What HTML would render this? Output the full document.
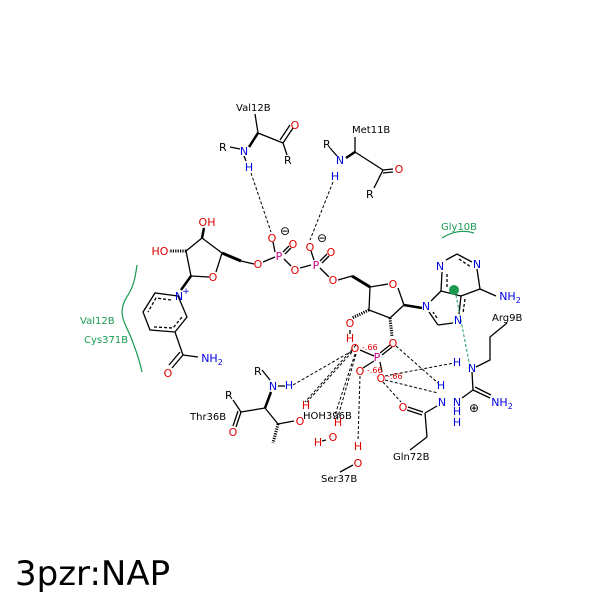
<!DOCTYPE html>
<html><head><style>body{margin:0;background:#fff}svg{display:block}</style></head><body>
<svg width="600" height="600" viewBox="0 0 600 600" xmlns="http://www.w3.org/2000/svg" font-family="'DejaVu Sans','Liberation Sans',sans-serif">
<g stroke="#000" stroke-width="1.3" fill="none">
<!-- Val12B -->
<line x1="255" y1="114" x2="258" y2="133"/>
<line x1="258" y1="133" x2="283" y2="143"/>
<line x1="283" y1="143" x2="293" y2="128"/><line x1="280" y1="140" x2="290" y2="125"/>
<line x1="283" y1="143" x2="287" y2="155"/>
<line x1="230" y1="147" x2="240" y2="149"/>
<line x1="258" y1="133" x2="249" y2="147" stroke-width="2.5"/>
<line x1="244" y1="156" x2="246" y2="161"/>
<!-- Met11B -->
<line x1="355" y1="137" x2="355" y2="152"/>
<line x1="355" y1="152" x2="383" y2="170"/>
<line x1="383" y1="170" x2="393" y2="169"/><line x1="383" y1="173" x2="393" y2="172"/>
<line x1="383" y1="170" x2="374" y2="188"/>
<line x1="330" y1="148" x2="337" y2="156"/>
<line x1="355" y1="152" x2="346" y2="158" stroke-width="2.5"/>
<!-- phosphates -->
<line x1="263" y1="262" x2="275" y2="257"/>
<line x1="284" y1="259" x2="291" y2="266"/>
<line x1="300" y1="268" x2="311" y2="265"/>
<line x1="320" y1="268" x2="329" y2="277"/>
<line x1="275" y1="252" x2="273" y2="242"/>
<line x1="283" y1="252" x2="289" y2="246"/><line x1="285" y1="254" x2="291" y2="248"/>
<line x1="314" y1="260" x2="311" y2="251"/>
<line x1="320" y1="261" x2="327" y2="254"/><line x1="322" y1="263" x2="329" y2="256"/>
<!-- left ribose -->
<line x1="202" y1="238" x2="222" y2="253"/>
<line x1="222" y1="253" x2="216" y2="272"/>
<line x1="209" y1="277" x2="191" y2="276"/>
<line x1="191" y1="276" x2="186" y2="251"/>
<line x1="186" y1="251" x2="202" y2="238"/>
<line x1="202" y1="238" x2="204" y2="228" stroke-width="2.5"/>
<line x1="186" y1="251" x2="169" y2="251" stroke-dasharray="1.2,1.2" stroke-width="3"/>
<line x1="222" y1="253" x2="241" y2="261" stroke-width="3"/>
<line x1="241" y1="261" x2="254" y2="264"/>
<line x1="191" y1="276" x2="181" y2="290" stroke-width="2.5"/>
<!-- pyridine -->
<polygon points="178,296 155,293 143,312 150,330 175,332 187,317"/>
<polyline points="171,300 156,298 148,312" stroke-dasharray="3,2"/>
<polyline points="154,327 173,328 182,317" stroke-dasharray="3,2"/>
<line x1="175" y1="332" x2="183" y2="355"/>
<line x1="183" y1="355" x2="172" y2="368"/><line x1="180" y1="352" x2="169" y2="365"/>
<line x1="183" y1="355" x2="198" y2="357"/>
<!-- right ribose -->
<line x1="352" y1="276" x2="338" y2="280"/>
<line x1="352" y1="276" x2="370" y2="287" stroke-width="3"/>
<line x1="370" y1="287" x2="388" y2="284"/>
<line x1="398" y1="288" x2="404" y2="305"/>
<line x1="404" y1="305" x2="390" y2="318"/>
<line x1="390" y1="318" x2="369" y2="310"/>
<line x1="369" y1="310" x2="370" y2="287"/>
<line x1="404" y1="305" x2="422" y2="308" stroke-width="2.5"/>
<line x1="369" y1="310" x2="352" y2="318" stroke-dasharray="1.2,1.2" stroke-width="3"/>
<line x1="390" y1="318" x2="392" y2="336" stroke-dasharray="1.2,1.2" stroke-width="3"/>
<!-- adenine -->
<line x1="431" y1="301" x2="441" y2="291"/>
<line x1="441" y1="291" x2="442" y2="272"/>
<line x1="446" y1="260" x2="457" y2="254"/>
<line x1="457" y1="254" x2="472" y2="262"/>
<line x1="477" y1="269" x2="480" y2="289"/>
<line x1="480" y1="289" x2="461" y2="296"/>
<line x1="461" y1="296" x2="441" y2="291"/>
<line x1="461" y1="296" x2="459" y2="314"/>
<line x1="453" y1="323" x2="438" y2="325"/>
<line x1="438" y1="325" x2="429" y2="312"/>
<line x1="480" y1="289" x2="496" y2="296"/>
<polyline points="447,287 447,272" stroke-dasharray="3,2"/>
<polyline points="459,259 471,267" stroke-dasharray="3,2"/>
<polyline points="465,299 463,313" stroke-dasharray="3,2"/>
<polyline points="437,318 433,312" stroke-dasharray="3,2"/>
<!-- 2' phosphate -->
<line x1="360" y1="350" x2="374" y2="356"/>
<line x1="363" y1="368" x2="374" y2="361"/>
<line x1="380" y1="362" x2="382" y2="372"/>
<line x1="380" y1="353" x2="390" y2="345"/><line x1="382" y1="355" x2="392" y2="347"/>
<line x1="350" y1="330" x2="350" y2="334"/>
<!-- Gln72B -->
<line x1="408" y1="407" x2="423" y2="412"/><line x1="407" y1="410" x2="422" y2="415"/>
<line x1="425" y1="413" x2="437" y2="406"/>
<line x1="425" y1="413" x2="427" y2="437"/>
<line x1="427" y1="437" x2="410" y2="450"/>
<!-- Arg9B -->
<polyline points="507,323 490,337 490,360 476,367"/>
<line x1="472" y1="372" x2="473" y2="390"/>
<line x1="473" y1="390" x2="490" y2="398"/><line x1="475" y1="387" x2="491" y2="395"/>
<line x1="473" y1="390" x2="462" y2="398"/>
<!-- Thr36B -->
<line x1="262" y1="370" x2="270" y2="380"/>
<line x1="278" y1="386" x2="285" y2="386"/>
<line x1="265" y1="408" x2="271" y2="392" stroke-width="2.5"/>
<line x1="265" y1="408" x2="241" y2="412"/>
<line x1="241" y1="412" x2="233" y2="400"/>
<line x1="241" y1="412" x2="236" y2="427"/><line x1="238" y1="411" x2="233" y2="426"/>
<line x1="265" y1="408" x2="278" y2="424"/>
<line x1="278" y1="424" x2="294" y2="421"/>
<line x1="278" y1="424" x2="273" y2="443" stroke-dasharray="1.2,1.2" stroke-width="3"/>
<!-- waters -->
<line x1="322" y1="441" x2="326" y2="440"/>
<line x1="353" y1="465" x2="340" y2="472"/>
</g>
<!-- H-bonds -->
<g stroke="#000" stroke-width="1" stroke-dasharray="3,2" fill="none">
<line x1="251" y1="173" x2="271" y2="232"/>
<line x1="333" y1="182" x2="310" y2="240"/>
<line x1="352" y1="351" x2="293" y2="385"/>
<line x1="352" y1="352" x2="307" y2="402"/>
<line x1="355" y1="354" x2="334" y2="418"/>
<line x1="356" y1="354" x2="337" y2="420"/>
<line x1="360" y1="376" x2="358" y2="441"/>
<line x1="396" y1="346" x2="438" y2="383"/>
<line x1="385" y1="376" x2="454" y2="363"/>
<line x1="385" y1="380" x2="438" y2="393"/>
<line x1="383" y1="382" x2="401" y2="402"/>
<line x1="356" y1="345" x2="305" y2="402"/>
</g>
<line x1="455" y1="290" x2="470" y2="367" stroke="#1aa060" stroke-width="1" stroke-dasharray="3,2"/>
<circle cx="454" cy="290" r="5" fill="#1a9a50"/>
<g fill="none" stroke="#1a9a50" stroke-width="1.2">
<path d="M137,265 C135,280 133,287 128,295 C118,310 122,318 130,335 C136,350 140,362 142,372"/>
<path d="M442,238 Q458,228 474,233"/>
</g>
<g font-size="10" fill="#000">
<text x="236" y="111">Val12B</text>
<text x="352" y="133">Met11B</text>
<text x="190" y="420">Thr36B</text>
<text x="303" y="419">HOH396B</text>
<text x="321" y="482">Ser37B</text>
<text x="393" y="460">Gln72B</text>
<text x="492" y="321">Arg9B</text>
</g>
<g font-size="10" fill="#1a9a50">
<text x="80" y="324">Val12B</text>
<text x="84" y="343">Cys371B</text>
<text x="441" y="230">Gly10B</text>
</g>
<g font-size="11" fill="#000">
<text x="219" y="151">R</text><text x="284" y="164">R</text>
<text x="323" y="148">R</text><text x="366" y="198">R</text>
<text x="254" y="375">R</text><text x="225" y="399">R</text>
<text x="280" y="235" font-size="12">⊖</text>
<text x="317" y="242" font-size="12">⊖</text>
<text x="469" y="412" font-size="12">⊕</text>
</g>
<g font-size="11" fill="#e00000" text-anchor="middle">
<text x="295" y="129">O</text><text x="399" y="173">O</text>
<text x="272" y="242">O</text><text x="293" y="248">O</text>
<text x="258" y="268">O</text><text x="295" y="274">O</text>
<text x="310" y="251">O</text><text x="331" y="256">O</text><text x="333" y="284">O</text>
<text x="207" y="226">OH</text><text x="160" y="255">HO</text>
<text x="213" y="281">O</text>
<text x="168" y="377">O</text>
<text x="393" y="288">O</text>
<text x="350" y="327">O</text><text x="350" y="342">H</text>
<text x="393" y="347">O</text>
<text x="355" y="352">O</text><text x="360" y="375">O</text><text x="381" y="382">O</text>
<text x="403" y="411">O</text>
<text x="233" y="436">O</text><text x="300" y="425">O</text>
<text x="306" y="409">H</text>
<text x="333" y="441">O</text><text x="318" y="446">H</text><text x="338" y="426">H</text>
<text x="358" y="467">O</text><text x="358" y="450">H</text>
</g>
<g font-size="8" fill="#e00000">
<text x="362" y="350">-.66</text><text x="367" y="373">-.66</text><text x="387" y="379">-.66</text>
</g>
<g font-size="11" fill="#d0008a" text-anchor="middle">
<text x="279" y="260">P</text><text x="316" y="269">P</text><text x="377" y="361">P</text>
</g>
<g font-size="11" fill="#0000e0" text-anchor="middle">
<text x="244" y="155">N</text><text x="249" y="171">H</text>
<text x="340" y="164">N</text><text x="335" y="180">H</text>
<text x="179" y="300">N</text><text x="186" y="294" font-size="9">+</text>
<text x="212" y="362">NH<tspan font-size="8" dy="3">2</tspan></text>
<text x="426" y="310">N</text><text x="458" y="324">N</text>
<text x="440" y="270">N</text><text x="477" y="268">N</text>
<text x="510" y="300">NH<tspan font-size="8" dy="3">2</tspan></text>
<text x="472" y="372">N</text><text x="457" y="366">H</text>
<text x="502" y="406">NH<tspan font-size="8" dy="3">2</tspan></text>
<text x="441" y="389">H</text><text x="442" y="406">N</text>
<text x="457" y="406">N</text><text x="457" y="415">H</text><text x="457" y="426">H</text>
<text x="273" y="390">N</text><text x="289" y="389">H</text>
</g>
<text x="15" y="585" font-size="34" fill="#000">3pzr:NAP</text>
</svg>
</body></html>
